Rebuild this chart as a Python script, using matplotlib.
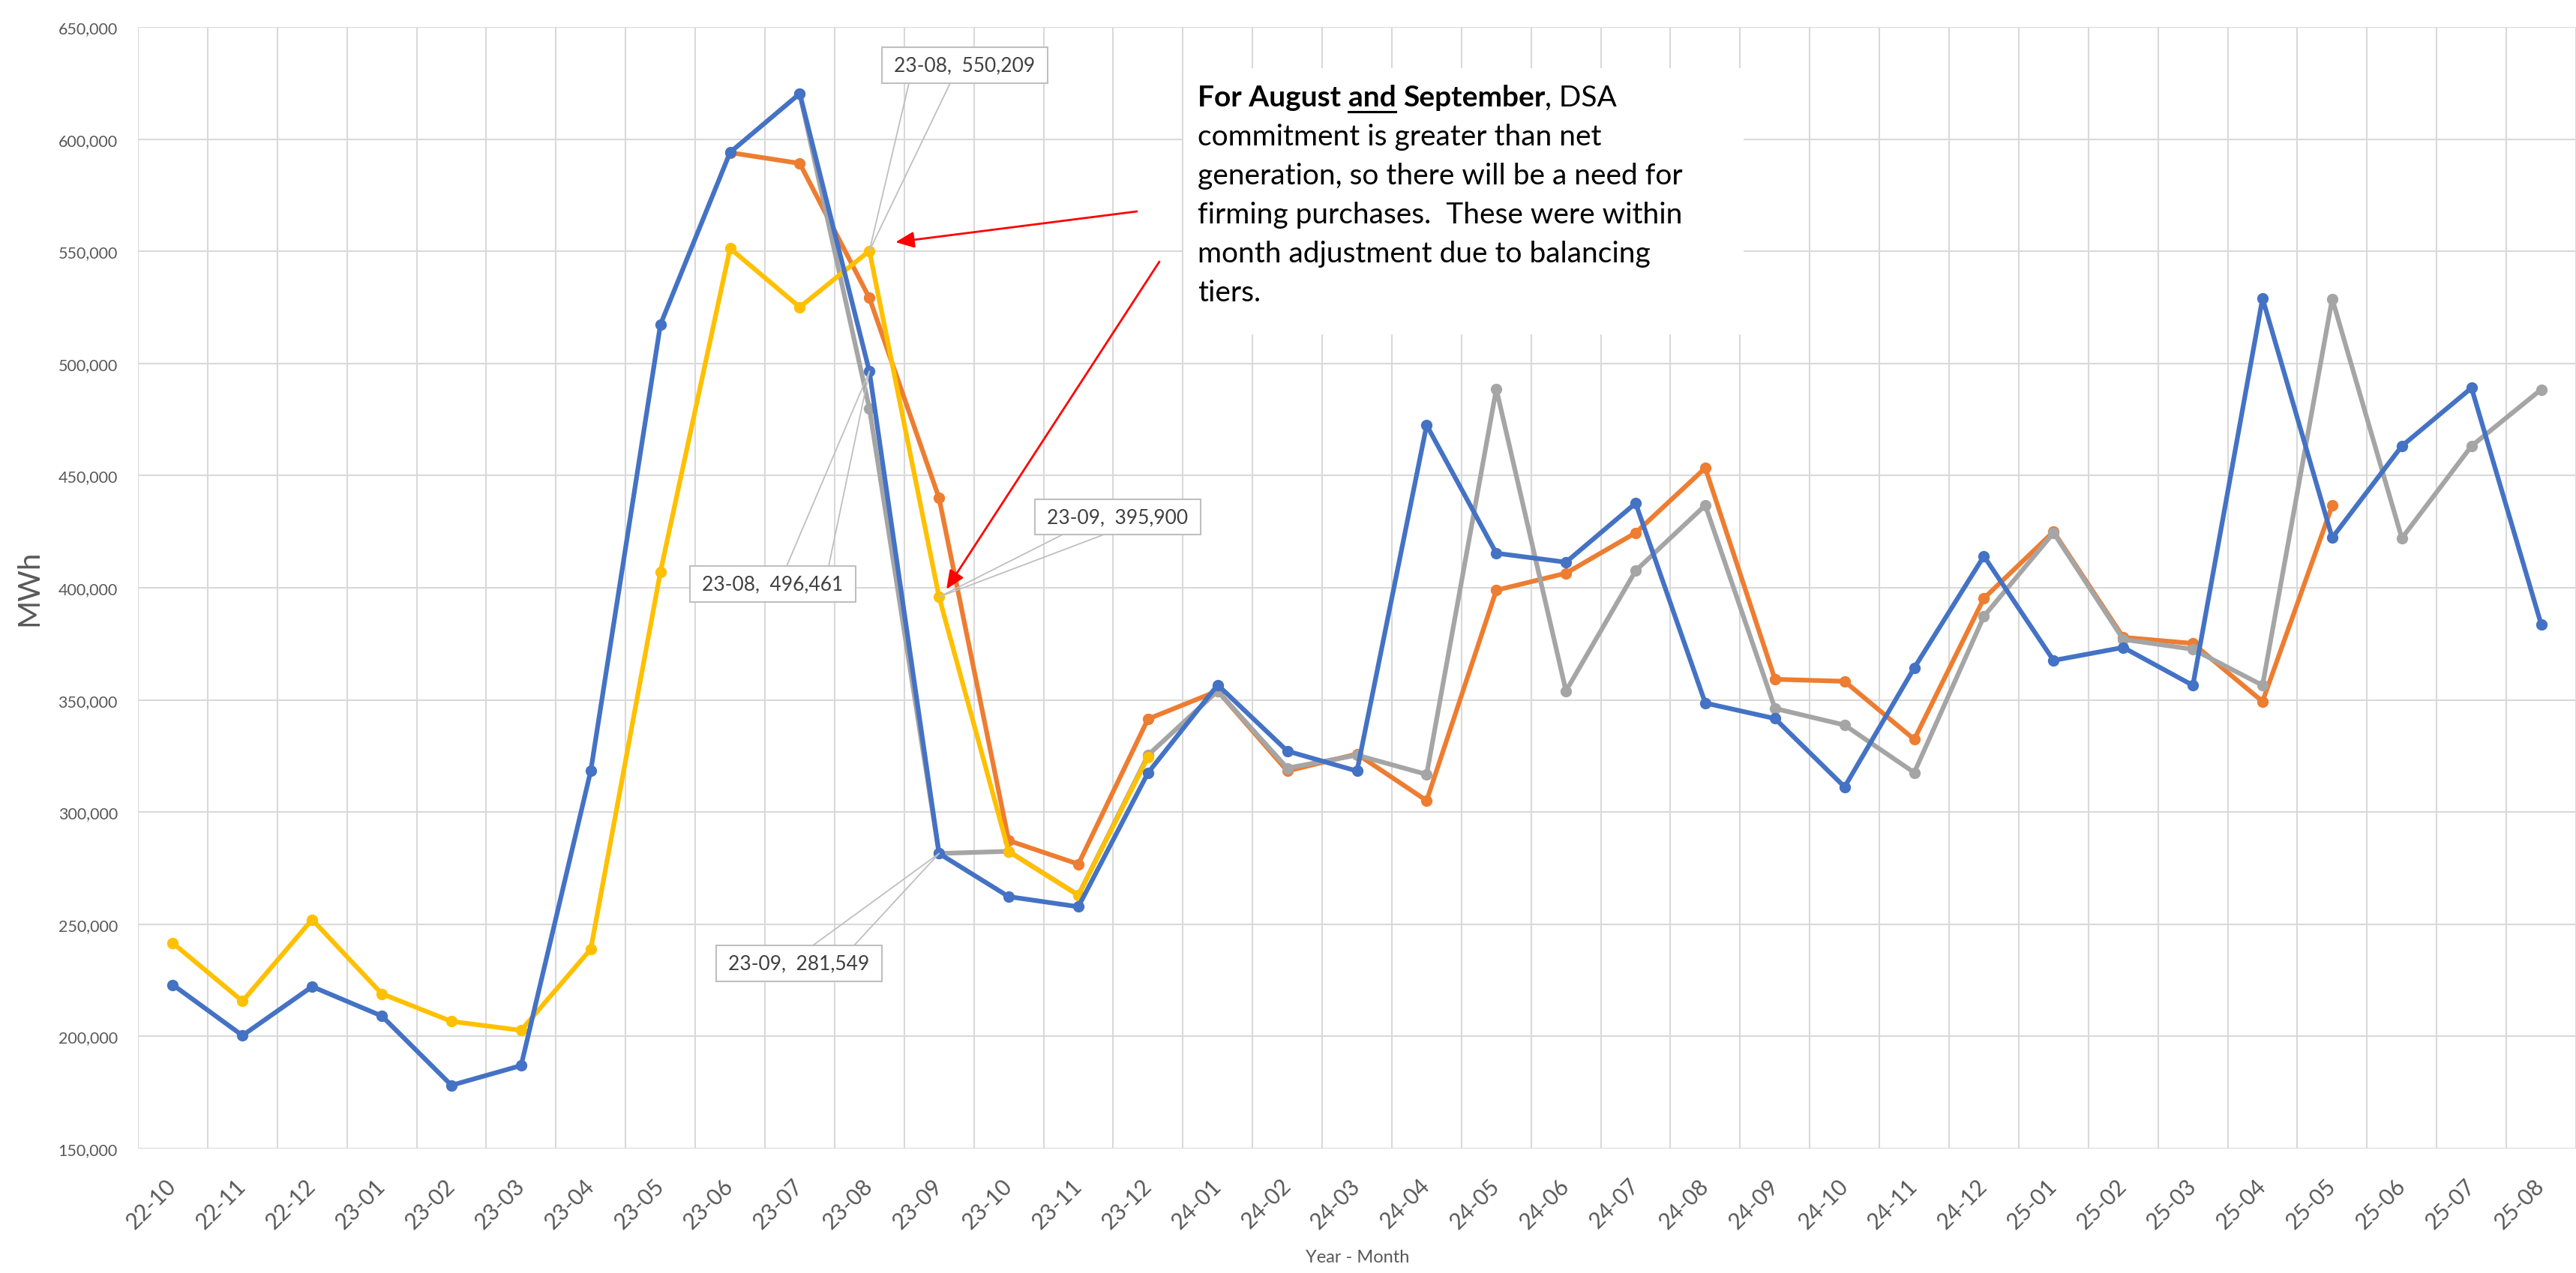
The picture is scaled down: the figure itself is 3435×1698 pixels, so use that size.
import numpy as np
import matplotlib.pyplot as plt
from matplotlib.patches import Rectangle, ConnectionPatch, FancyArrowPatch
from matplotlib.lines import Line2D
from matplotlib.ticker import FuncFormatter

plt.rcParams['font.family'] = ['Lato', 'DejaVu Sans']

# data
months = ['22-10', '22-11', '22-12', '23-01', '23-02', '23-03', '23-04', '23-05', '23-06',
          '23-07', '23-08', '23-09', '23-10', '23-11', '23-12', '24-01', '24-02', '24-03',
          '24-04', '24-05', '24-06', '24-07', '24-08', '24-09', '24-10', '24-11', '24-12',
          '25-01', '25-02', '25-03', '25-04', '25-05', '25-06', '25-07', '25-08']
nan = np.nan
blue = [223000, 200400, 222200, 209100, 178200, 187000, 318400, 517300, 594100,
        620300, 496461, 281549, 262300, 257800, 317500, 356700, 327200, 318300,
        472500, 415400, 411400, 437700, 348600, 341700, 311200, 364300, 414100,
        367600, 373400, 356500, 529000, 422300, 463200, 489100, 383700]
orange = [nan, nan, nan, nan, nan, nan, nan, nan, 594000,
          589200, 529200, 440000, 287300, 276800, 341500, 354000, 318300, 325900,
          305100, 398900, 406500, 424500, 453400, 359200, 358300, 332400, 395300,
          425000, 377900, 375200, 349300, 436600, nan, nan, nan]
gray = [nan, nan, nan, nan, nan, nan, nan, nan, nan,
        620300, 480000, 281549, 282500, 263000, 325400, 354000, 319600, 325400,
        316800, 488600, 354000, 407600, 436800, 346200, 338800, 317600, 387300,
        424500, 377000, 372600, 356500, 528800, 422100, 463200, 488400]
yellow = [241600, 215700, 252100, 219000, 206700, 202700, 238900, 407100, 551300,
          525100, 550209, 395900, 282400, 262900, 324600, nan, nan, nan,
          nan, nan, nan, nan, nan, nan, nan, nan, nan,
          nan, nan, nan, nan, nan, nan, nan, nan]

note_lines = ['commitment is greater than net',
              'generation, so there will be a need for',
              'firming purchases.  These were within',
              'month adjustment due to balancing',
              'tiers.']

W, H = 3435, 1699
fig = plt.figure(figsize=(W / 100, H / 100), dpi=100)

def fx(x):
    return x / W

def fy(y):
    return 1 - y / H

ax = fig.add_axes([fx(184), fy(1533), (W - 184) / W, (1533 - 37) / H])

x = np.arange(len(months))
series = [(orange, '#ED7D31', 2), (gray, '#A5A5A5', 3), (yellow, '#FFC000', 4), (blue, '#4472C4', 5)]
for vals, col, z in series:
    ax.plot(x, vals, color=col, lw=4.5, marker='o', ms=10, zorder=z, solid_joinstyle='round')

ax.set_xlim(-0.5, len(months) - 0.5)
ax.set_ylim(150000, 650000)
ax.set_yticks(np.arange(150000, 650001, 50000))
ax.yaxis.set_major_formatter(FuncFormatter(lambda v, p: f'{v:,.0f}'))
ax.set_xticks(x)
ax.set_xticklabels(months, rotation=45, ha='right', va='center', rotation_mode='anchor')
ax.set_xticks(np.arange(-0.5, len(months), 1), minor=True)
ax.tick_params(axis='x', which='both', length=0, pad=32, labelsize=21.5, labelcolor='#595959')
ax.tick_params(axis='y', length=0, pad=19.5, labelsize=15.5, labelcolor='#595959')
ax.grid(axis='y', which='major', color='#d9d9d9', lw=1.5)
ax.grid(axis='x', which='minor', color='#d9d9d9', lw=1.5)
ax.set_axisbelow(True)
for s in ax.spines.values():
    s.set_visible(False)

fig.text(fx(39), fy(784), 'MWh', rotation=90, ha='center', va='center', fontsize=29, color='#595959')
fig.text(fx(1810), fy(1678), 'Year - Month', ha='center', va='center', fontsize=17, color='#595959')

# data labels with leader lines (box x0, y0, x1, y1 in pixels, leader starts, target)
labels = [((1176, 64, 1397, 112), [(1212, 112), (1267, 112)], 10, yellow),
          ((920, 756, 1141, 804), [(1049, 756), (1105, 756)], 10, blue),
          ((1380, 667, 1601, 714), [(1417, 714), (1472, 714)], 11, yellow),
          ((955, 1262, 1176, 1310), [(1084, 1262), (1139, 1262)], 11, blue)]
for (x0, y0, x1, y1), starts, i, vals in labels:
    for sx, sy in starts:
        cp = ConnectionPatch(xyA=(fx(sx), fy(sy)), coordsA=fig.transFigure,
                             xyB=(i, vals[i]), coordsB=ax.transData,
                             color='#bfbfbf', lw=1.3, zorder=6)
        fig.add_artist(cp)
    fig.add_artist(Rectangle((fx(x0), fy(y1)), (x1 - x0) / W, (y1 - y0) / H, transform=fig.transFigure,
                             facecolor='white', edgecolor='#bfbfbf', lw=1.5, zorder=7))
    fig.text(fx((x0 + x1) / 2), fy((y0 + y1) / 2), f'{months[i]},  {vals[i]:,.0f}', ha='center', va='center',
             fontsize=19, color='#404040', zorder=8)

# red arrows
for tail, head in [((1516, 283), (1194, 324)), ((1546, 350), (1262, 787))]:
    fig.add_artist(FancyArrowPatch(posA=(fx(tail[0]), fy(tail[1])), posB=(fx(head[0]), fy(head[1])),
                                   transform=fig.transFigure, arrowstyle='-|>,head_length=1.5,head_width=0.65',
                                   mutation_scale=10, color='red', lw=2, shrinkA=0, shrinkB=0, zorder=9))

# note box
fig.add_artist(Rectangle((fx(1578), fy(447)), (2325 - 1578) / W, (447 - 92) / H, transform=fig.transFigure,
                         facecolor='white', edgecolor='none', zorder=7))
note_fs = 28
renderer = fig.canvas.get_renderer()

def width_of(s, weight):
    t = fig.text(0, 0, s, fontsize=note_fs, fontweight=weight)
    w = t.get_window_extent(renderer).width
    t.remove()
    return w

space_b = width_of('a a', 'bold') - width_of('aa', 'bold')
runs = [('For August', 'bold', False, True), ('and', 'bold', True, True),
        ('September', 'bold', False, False), (', DSA', 'normal', False, False)]
xpos = 1597
for s, weight, under, gap in runs:
    t = fig.text(fx(xpos), fy(142), s, fontsize=note_fs, fontweight=weight, va='baseline', ha='left',
                 color='black', zorder=8)
    bb = t.get_window_extent(renderer)
    if under:
        fig.add_artist(Line2D([fx(bb.x0), fx(bb.x1)], [fy(150), fy(150)], transform=fig.transFigure,
                              color='black', lw=2.2, zorder=8))
    xpos = bb.x1 + (space_b if gap else 0)

for k, line in enumerate(note_lines):
    fig.text(fx(1597), fy(194 + 52 * k), line, fontsize=note_fs, va='baseline', ha='left',
             color='black', zorder=8)

fig.savefig('out.png', dpi=100)
